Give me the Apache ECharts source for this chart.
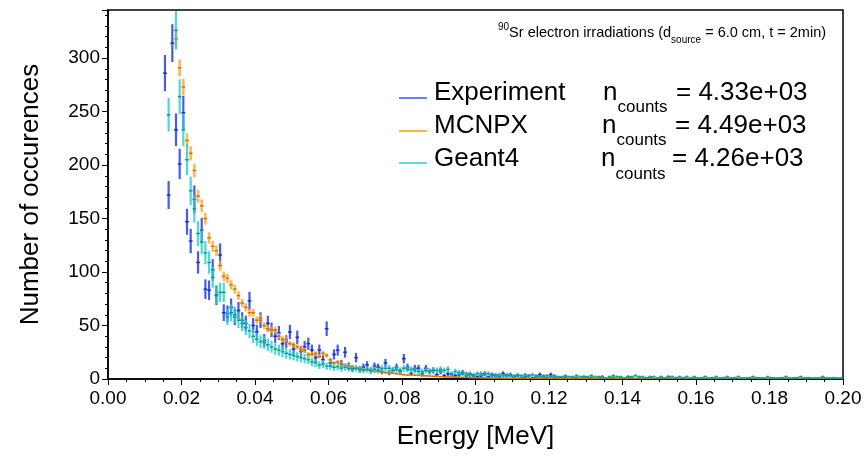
<!DOCTYPE html>
<html><head><meta charset="utf-8">
<script src="https://cdn.jsdelivr.net/npm/echarts@6/dist/echarts.min.js"></script>
<style>html,body{margin:0;padding:0;background:#fff}#c{width:867px;height:466px}</style>
</head><body><div id="c"></div>
<script>
// Histogram bins: width 0.001 MeV, first shown bin index 15 (center 0.0155 MeV)
const firstBin = 15;
const binWidth = 0.001;
const xTickLabels = ['0.00','0.02','0.04','0.06','0.08','0.10','0.12','0.14','0.16','0.18','0.20'];
const yTickLabels = ['0','50','100','150','200','250','300'];
const seriesNames = ['Experiment','MCNPX','Geant4'];
const countLabels = ['4.33e+03','4.49e+03','4.26e+03'];

const experiment = [
286,172,314,233,201,249,147,129,168,109,139,84,83,102,
78,116,62,61,67,58,64,55,52,73,50,44,55,36,
52,46,40,43,33,35,44,28,39,26,30,33,27,20,
27,18,47,15,23,27,14,25,12,10,20,9,11,13,
8,12,11,7,15,6,8,11,7,19,11,5,10,10,
5,10,7,8,4,7,3,5,4,3,4,6,3,4,
3,2,3,5,2,4,3,2,5,3,4,2,3,1,
2,3,1,2,4,2,1,4,2,1,1,2,0,1,
1,0,2,1,1,0,1,2,0,1,1,0,1,0,
2,1,0,1,0,1,1,0,0,1,0,2,0,1,
0,1,0,0,1,0,1,0,0,1,0,0,1,0,
0,1,0,0,0,1,0,1,0,0,0,1,0,0,
1,0,0,0,1,0,0,1,0,0,0,1,0,0,
1,0,0];

const mcnpx = [
null,null,null,318,291,273,223,211,195,171,162,150,132,124,
120,106,96,94,88,84,78,71,67,62,62,55,57,50,
47,46,46,40,37,37,33,32,30,28,27,23,23,24,
21,24,22,18,15,16,14,13,12,11.5,10,10,9,8.5,
8,7,7,6.5,6,6,5.5,5,4.5,4,3.7,4,3.5,3.5,
3,3,2.8,2.5,2.5,2.2,2,2,1.8,1.7,1.6,1.5,1.5,1.3,
1.2,1.2,1.1,1,1,0.9,0.9,0.8,0.8,0.7,0.7,0.7,0.6,0.6,
0.6,0.5,0.5,0.5,0.5,0.45,0.4,0.45,0.4,0.35,0.4,0.35,0.3,0.35,
0.3,0.3,0.3,0.25,0.3,0.25,0.25,0.2,0.25,0.2,0.2,0.2,0.2,0.15,
0.2,0.15,0.15,0.15,0.15,0.1,0.15,0.1,0.1,0.15,0.1,0.1,0.1,0.1,
0.1,0.05,0.1,0.1,0.05,0.1,0.05,0.05,0.1,0.05,0.05,0.05,0.05,0.05,
0.05,0.05,0.05,0.05,0.05,0.05,0.05,0.05,0.05,0.05,0.05,0.05,0.05,0.05,
0.05,0.05,0.05,0.05,0.05,0.05,0.05,0.05,0.05,0.05,0.05,0.05,0.05,0.05,
0.05,0.05,0.05];

const geant4 = [
null,247,null,326,264,233,205,176,159,136,128,118,109,95,
79,81,81,58,62,60,55,52,48,45,40,37,35,34,
32,30,28,27,25.5,24,23,22,21,20,19,18,16,15,
13,14,12,12,11,11.5,10,11,10,9,10,9,8,9,
8,9,8,10,10,10,8,9,8,10,9,9,8,7,
7,8,7,8,8,9,8,9,5,7,6,5,5,5,
4,5,5,4,5,3,4,4,3,4,3,3,4,3,
4,3,4,3,2,3,3,2,3,2,2,3,2,2,
3,2,2,2,3,2,2,2,1,2,3,2,2,1,
2,2,3,2,2,1,2,2,1,2,1,2,2,1,
2,1,2,1,2,1,1,2,1,1,2,1,1,2,
1,1,2,1,1,1,2,1,1,1,2,1,1,1,
1,2,1,1,1,2,1,1,1,1,1,2,1,1,
1,1,1];

// error scale factor (err = sqrt(scale * value))
const errScales = [1, 0.21, 1];

const barColors = ['rgba(35,65,235,0.85)','rgba(255,165,40,0.8)','rgba(30,208,198,0.8)'];
const markColors = ['#1030c8','#d07400','#0e9c92'];
const barWidths = [2.2, 2.6, 2.2];
const legendColors = ['#3355ee','#ff9900','#33cccc'];
const FONT = '"Liberation Sans", Arial, Helvetica, sans-serif';

function makeSeries(idx, vals) {
  const data = [];
  vals.forEach((v, i) => {
    if (v == null) return;
    data.push([(firstBin + i + 0.5) * binWidth, v, Math.sqrt(v * errScales[idx])]);
  });
  return {
    type: 'custom', name: seriesNames[idx], data, clip: true, silent: true,
    encode: {x: 0, y: 1},
    renderItem(params, api) {
      const x = api.value(0), y = api.value(1), e = api.value(2);
      const p = api.coord([x, y]);
      const lo = api.coord([x, y - e]);
      const hi = api.coord([x, y + e]);
      const l = api.coord([x - binWidth / 2, y]);
      const r = api.coord([x + binWidth / 2, y]);
      const children = [];
      if (e > 0) children.push({type: 'line', shape: {x1: p[0], y1: lo[1], x2: p[0], y2: hi[1]},
        style: {stroke: barColors[idx], lineWidth: barWidths[idx]}});
      children.push({type: 'line', shape: {x1: l[0], y1: p[1], x2: r[0], y2: p[1]},
        style: {stroke: markColors[idx], lineWidth: 1.5}});
      return {type: 'group', children};
    }
  };
}

const ctx = document.createElement('canvas').getContext('2d');
function tw(t, fs) { ctx.font = fs + 'px ' + FONT; return ctx.measureText(t).width; }
// text element placed by baseline
function txt(s, x, baseline, fs, align) {
  return {type: 'text', x: x, y: baseline - 0.3465 * fs, silent: true,
    style: {text: s, fontSize: fs, fontFamily: FONT, fill: '#000', align: align || 'left', verticalAlign: 'middle'}};
}

const graphics = [];
// title
(function(){
  const big = 14.5, small = 10;
  let x = 498;
  graphics.push(txt('90', x, 31, small)); x += tw('90', small);
  const a = 'Sr electron irradiations (d';
  graphics.push(txt(a, x, 38.5, big)); x += tw(a, big);
  graphics.push(txt('source', x, 43.5, small)); x += tw('source', small);
  graphics.push(txt(' = 6.0 cm, t = 2min)', x, 38.5, big));
})();
// legend
const rowBase = [101.5, 135, 168.3];
const lineY = [98, 131, 163];
const nX = [603, 602, 601];
const eqX = [676, 675, 672];
seriesNames.forEach((n, i) => {
  graphics.push({type: 'line', silent: true, shape: {x1: 399, y1: lineY[i], x2: 427, y2: lineY[i]},
    style: {stroke: legendColors[i], lineWidth: 1.5}});
  graphics.push(txt(n, 434, rowBase[i], 26));
  graphics.push(txt('n', nX[i], rowBase[i], 26));
  graphics.push(txt('counts', nX[i] + 14.5, rowBase[i] + 11.5, 17));
  graphics.push(txt('= ' + countLabels[i], eqX[i], rowBase[i], 26));
});

const chart = echarts.init(document.getElementById('c'), null, {renderer: 'canvas'});
chart.setOption({
  animation: false,
  backgroundColor: '#fff',
  grid: {left: 108, right: 24, top: 10, bottom: 87, show: true, borderColor: '#000', borderWidth: 1.5, backgroundColor: 'transparent'},
  xAxis: {
    type: 'value', min: 0, max: 0.2, interval: 0.02,
    name: 'Energy [MeV]', nameLocation: 'middle', nameGap: 45,
    nameTextStyle: {fontSize: 26, fontFamily: FONT, color: '#000'},
    axisLine: {show: true, onZero: false, lineStyle: {color: '#000', width: 1.5}},
    axisTick: {show: true, length: 6, lineStyle: {color: '#000', width: 1}},
    minorTick: {show: true, splitNumber: 4, length: 3, lineStyle: {color: '#000', width: 1}},
    splitLine: {show: false},
    axisLabel: {fontSize: 19, fontFamily: FONT, color: '#000', margin: 10,
      formatter: v => { const k = Math.round(v / 0.02); return Math.abs(v - k * 0.02) < 1e-9 ? xTickLabels[k] : ''; }}
  },
  yAxis: {
    type: 'value', min: 0, max: 345, interval: 50,
    name: 'Number of occurences', nameLocation: 'middle', nameGap: 64,
    nameTextStyle: {fontSize: 26, fontFamily: FONT, color: '#000'},
    axisLine: {show: true, lineStyle: {color: '#000', width: 1.5}},
    axisTick: {show: true, length: 6, lineStyle: {color: '#000', width: 1}},
    minorTick: {show: true, splitNumber: 5, length: 3, lineStyle: {color: '#000', width: 1}},
    splitLine: {show: false},
    axisLabel: {fontSize: 19, fontFamily: FONT, color: '#000', margin: 8, showMaxLabel: false,
      formatter: v => { const k = Math.round(v / 50); return (Math.abs(v - k * 50) < 1e-6 && k < yTickLabels.length) ? yTickLabels[k] : ''; }}
  },
  series: [makeSeries(0, experiment), makeSeries(1, mcnpx), makeSeries(2, geant4)],
  graphic: graphics
});
</script>
</body></html>
